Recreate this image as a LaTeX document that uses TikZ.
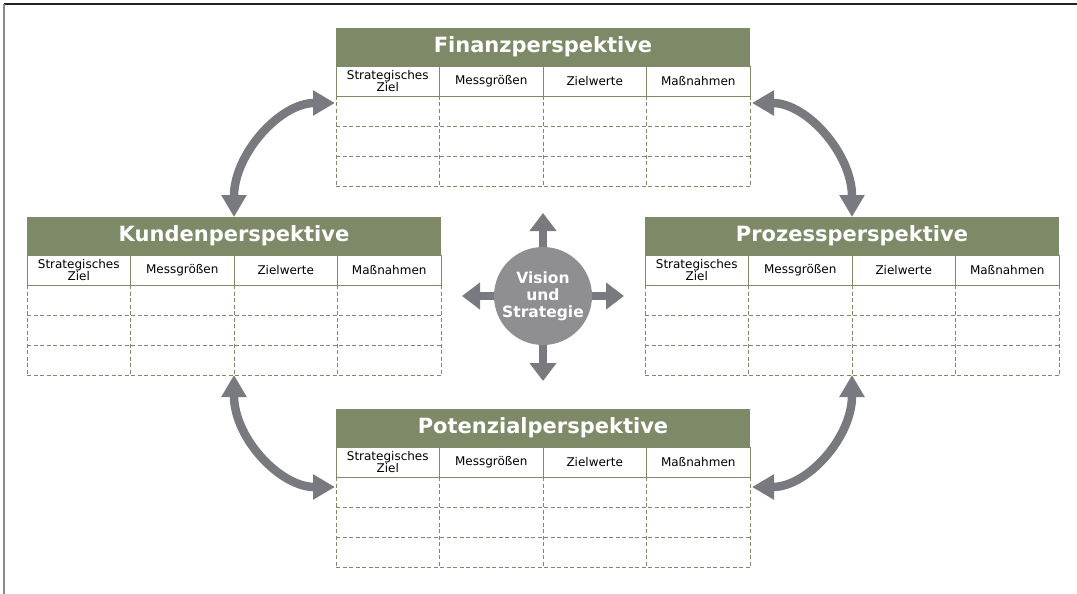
\documentclass[tikz,border=0pt]{standalone}
\usepackage{fontspec}
\setmainfont{DejaVu Sans}
\usepackage{tikz}
\usetikzlibrary{arrows.meta, positioning, backgrounds}
\usepackage{xcolor}
\definecolor{OliveGreen}{HTML}{7E8A67}
\definecolor{ArrowGrey}{HTML}{797A80}
\definecolor{CircleGrey}{HTML}{8F8F91}
\definecolor{FrameDark}{HTML}{222222}
\definecolor{FrameGrey}{HTML}{8A8A8A}
\tikzset{
  % Title bar of a perspective
  titlebar/.style={
    rectangle, fill=OliveGreen, anchor=north west,
    minimum width=414pt, minimum height=38pt,
    inner sep=0pt, outer sep=0pt, text=white,
    font=\fontsize{21}{23}\selectfont\bfseries
  },
  % Column heading
  headcell/.style={
    rectangle, draw=OliveGreen, line width=0.8pt,
    minimum width=103.5pt, minimum height=30pt,
    inner sep=0pt, outer sep=0pt, align=center,
    font=\fontsize{12}{12.5}\selectfont
  },
  % Empty table cell
  datacell/.style={
    rectangle, minimum width=103.5pt, minimum height=30pt,
    inner sep=0pt, outer sep=0pt
  },
  % Dashed grid of the empty cells
  gridline/.style={
    draw=OliveGreen, line width=0.8pt,
    dash pattern=on 4pt off 2.5pt
  },
  % Centre circle
  vision/.style={
    circle, fill=CircleGrey, minimum size=98pt,
    inner sep=0pt, text=white, align=center,
    font=\fontsize{15.5}{17}\selectfont\bfseries
  },
  % Straight arrows out of the circle
  spoke/.style={
    draw=ArrowGrey, line width=8pt,
    -{Triangle[width=26pt, length=18pt]}
  },
  % Curved double arrows between perspectives
  link/.style={
    draw=ArrowGrey, line width=8.5pt,
    {Triangle[width=24pt, length=22pt]}-{Triangle[width=24pt, length=22pt]}
  }
}

% One perspective: name, top left corner, title
\newcommand{\perspective}[3]{%
  \node[titlebar] (#1) at #2 {#3};
  \node[headcell, anchor=north west] (#1-h1) at (#1.south west) {Strategisches\\Ziel};
  \node[headcell, right=0pt of #1-h1] (#1-h2) {Messgrößen};
  \node[headcell, right=0pt of #1-h2] (#1-h3) {Zielwerte};
  \node[headcell, right=0pt of #1-h3] (#1-h4) {Maßnahmen};
  \foreach \c in {1,...,4}{
    \node[datacell, below=0pt of #1-h\c] (#1-1-\c) {};
    \node[datacell, below=0pt of #1-1-\c] (#1-2-\c) {};
    \node[datacell, below=0pt of #1-2-\c] (#1-3-\c) {};
    \draw[gridline] (#1-h\c.south west) -- (#1-3-\c.south west);
  }
  \draw[gridline] (#1-h4.south east) -- (#1-3-4.south east);
  \foreach \r in {1,2,3}
    \draw[gridline] (#1-\r-1.south west) -- (#1-\r-4.south east);
}

\begin{document}
\begin{tikzpicture}[x=1pt, y=-1pt]
\useasboundingbox (0,0) rectangle (1077,594);

% Frame
\draw[FrameDark, line width=2pt] (4,4) -- (1077,4);
\draw[FrameGrey, line width=2pt] (4,4) -- (4,594);

% Perspectives
\perspective{fin}{(336,28)}{Finanzperspektive}
\perspective{kun}{(27,217)}{Kundenperspektive}
\perspective{pro}{(645,217)}{Prozessperspektive}
\perspective{pot}{(336,409)}{Potenzialperspektive}

% Vision and strategy
\node[vision] (vis) at (543,296) {Vision\\und\\Strategie};
\coordinate (vis-n) at (543,213);
\coordinate (vis-s) at (543,381);
\coordinate (vis-w) at (462,296);
\coordinate (vis-e) at (624,296);
\begin{scope}[on background layer]
  \draw[spoke] (vis.center) -- (vis-n);
  \draw[spoke] (vis.center) -- (vis-s);
  \draw[spoke] (vis.center) -- (vis-w);
  \draw[spoke] (vis.center) -- (vis-e);
\end{scope}

% Links
\draw[link] (kun.north) .. controls +(0,-63) and +(-55,0) .. ([xshift=-1pt, yshift=-7pt]fin-h1.south west);
\draw[link] ([xshift=2pt, yshift=-7pt]fin-h4.south east) .. controls +(55,0) and +(0,-63) .. (pro.north);
\draw[link] (kun-3-2.south east) .. controls +(0,63) and +(-55,0) .. ([xshift=-1pt, yshift=-10pt]pot-h1.south west);
\draw[link] ([xshift=2pt, yshift=-10pt]pot-h4.south east) .. controls +(55,0) and +(0,63) .. (pro-3-3.south west);

\end{tikzpicture}
\end{document}
